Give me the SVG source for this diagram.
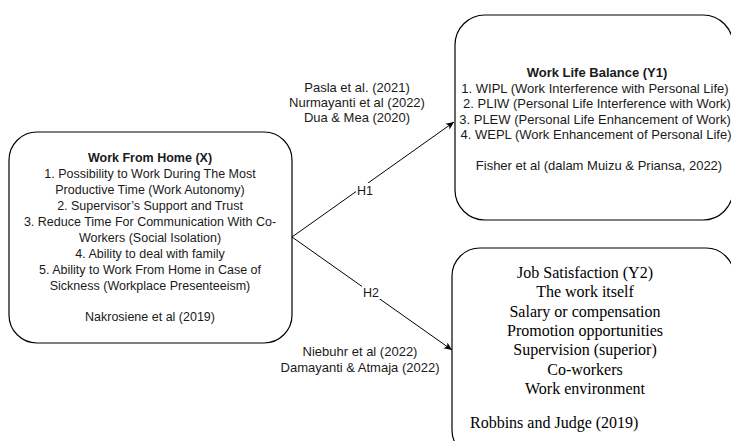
<svg xmlns="http://www.w3.org/2000/svg" width="731" height="441" viewBox="0 0 731 441">
<defs>
<marker id="arr" markerWidth="10" markerHeight="10" refX="9" refY="5" orient="auto" markerUnits="userSpaceOnUse">
<path d="M1,1.5 L9,5 L1,8.5 L3,5 Z" fill="#000"/>
</marker>
<style>
.box{fill:#fff;stroke:#000;stroke-width:1.2}
.s{font-family:"Liberation Sans",Arial,sans-serif;font-size:12.5px;fill:#1a1a1a;text-anchor:middle}
.r{font-size:13px}
.b{font-weight:bold}
.t{font-family:"Liberation Serif","Times New Roman",serif;font-size:16px;fill:#000;text-anchor:middle}
.st{text-anchor:start}
.c{stroke:#000;stroke-width:1;fill:none}
</style>
</defs>
<rect width="731" height="441" fill="#fff"/>
<g id="connectors">
<path class="c" d="M292,237 L454,122" marker-end="url(#arr)"/>
<path class="c" d="M292,237 L452,350" marker-end="url(#arr)"/>
<rect x="356" y="183" width="19" height="14" fill="#fff"/>
<text class="s" x="365" y="195">H1</text>
<rect x="362" y="285" width="19" height="14" fill="#fff"/>
<text class="s" x="371" y="297">H2</text>
<text class="s r" x="357" y="92">Pasla et al. (2021)</text>
<text class="s r" x="357" y="107">Nurmayanti et al (2022)</text>
<text class="s r" x="357" y="122">Dua &amp; Mea (2020)</text>
<text class="s r" x="360" y="356">Niebuhr et al (2022)</text>
<text class="s r" x="360" y="372">Damayanti &amp; Atmaja (2022)</text>
</g>
<g id="wfh">
<rect class="box" x="9" y="132" width="283" height="211" rx="28"/>
<text class="s b" x="150" y="162">Work From Home (X)</text>
<text class="s" x="150" y="178">1. Possibility to Work During The Most</text>
<text class="s" x="150" y="194">Productive Time (Work Autonomy)</text>
<text class="s" x="150" y="210">2. Supervisor’s Support and Trust</text>
<text class="s" x="150" y="226">3. Reduce Time For Communication With Co-</text>
<text class="s" x="150" y="242">Workers (Social Isolation)</text>
<text class="s" x="150" y="258">4. Ability to deal with family</text>
<text class="s" x="150" y="274">5. Ability to Work From Home in Case of</text>
<text class="s" x="150" y="290">Sickness (Workplace Presenteeism)</text>
<text class="s" x="150" y="321">Nakrosiene et al (2019)</text>
</g>
<g id="wlb">
<rect class="box" x="455" y="15" width="278" height="205" rx="30"/>
<text class="s r b" x="597" y="77">Work Life Balance (Y1)</text>
<text class="s r" x="595" y="93">1. WIPL (Work Interference with Personal Life)</text>
<text class="s r" x="597" y="108">2. PLIW (Personal Life Interference with Work)</text>
<text class="s r" x="595" y="124">3. PLEW (Personal Life Enhancement of Work)</text>
<text class="s r" x="596" y="139">4. WEPL (Work Enhancement of Personal Life)</text>
<text class="s r" x="599" y="170">Fisher et al (dalam Muizu &amp; Priansa, 2022)</text>
</g>
<g id="js">
<rect class="box" x="452" y="248" width="282" height="210" rx="28"/>
<text class="t" x="585" y="278">Job Satisfaction (Y2)</text>
<text class="t" x="585" y="297">The work itself</text>
<text class="t" x="585" y="317">Salary or compensation</text>
<text class="t" x="585" y="336">Promotion opportunities</text>
<text class="t" x="585" y="355">Supervision (superior)</text>
<text class="t" x="585" y="375">Co-workers</text>
<text class="t" x="585" y="394">Work environment</text>
<text class="t st" x="470" y="428">Robbins and Judge (2019)</text>
</g>
</svg>
